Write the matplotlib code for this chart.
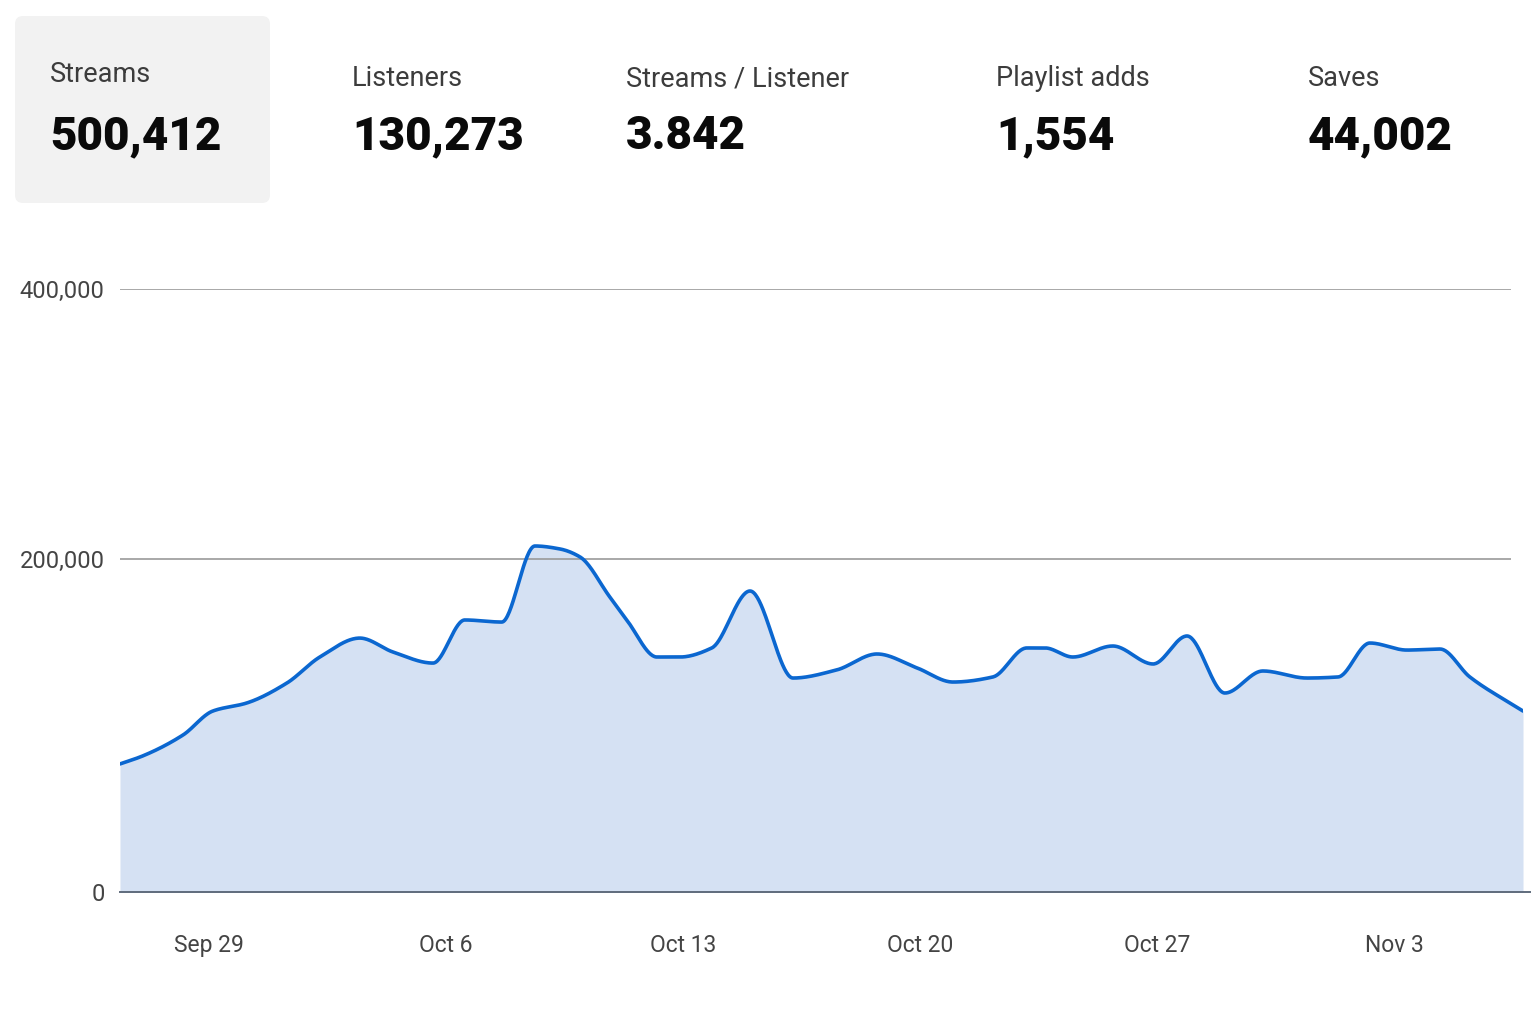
import numpy as np
import matplotlib
matplotlib.use("Agg")
import matplotlib.pyplot as plt
from matplotlib.patches import FancyBboxPatch

# KPI header
kpi_labels = ["Streams", "Listeners", "Streams / Listener", "Playlist adds", "Saves"]
kpi_values = ["500,412", "130,273", "3.842", "1,554", "44,002"]
kpi_x = [50, 352, 626, 996, 1308]  # pixel positions of each card

# daily streams, day offset counted from Sep 29
day_offset = [-2.62, -1.95, -0.76, 0.12, 1.12, 2.31, 3.28, 4.46, 5.44,
              6.62, 7.56, 8.65, 9.63, 10.37, 10.96, 11.84, 12.34, 13.23, 13.91,
              14.85, 15.98, 17.25, 18.54, 19.73, 20.91, 21.97, 23.15, 24.15, 24.69,
              25.51, 26.69, 27.88, 28.88, 30.00, 31.12, 32.42, 33.34, 34.28, 35.37,
              36.35, 37.23, 38.80]
streams = [65600, 70400, 83200, 98200, 103300, 116200, 133200, 145800, 136500,
           129200, 158000, 156600, 209200, 207100, 201500, 173700, 158000, 133200, 133200,
           139200, 177800, 119400, 124700, 135200, 126000, 116800, 120100, 139200, 139200,
           133200, 140500, 128600, 147200, 109700, 124000, 119400, 120100, 142500, 137800,
           138500, 120100, 98200]

tick_days = [0, 7, 14, 21, 28, 35]
tick_labels = ["Sep 29", "Oct 6", "Oct 13", "Oct 20", "Oct 27", "Nov 3"]
y_ticks = [0, 200000, 400000]

LINE = "#0b67d0"
FILL = "#d5e1f3"
W, H = 1536, 1024


def smooth(x, y, n=1500):
    # monotone cubic (Fritsch-Carlson) so the curve does not overshoot
    x = np.asarray(x, float)
    y = np.asarray(y, float)
    h = np.diff(x)
    d = np.diff(y) / h
    m = np.zeros_like(y)
    m[0], m[-1] = d[0], d[-1]
    for k in range(1, len(x) - 1):
        if d[k - 1] * d[k] > 0:
            w1 = 2 * h[k] + h[k - 1]
            w2 = h[k] + 2 * h[k - 1]
            m[k] = (w1 + w2) / (w1 / d[k - 1] + w2 / d[k])
    xs = np.linspace(x[0], x[-1], n)
    i = np.clip(np.searchsorted(x, xs) - 1, 0, len(x) - 2)
    t = (xs - x[i]) / h[i]
    h00 = 2 * t**3 - 3 * t**2 + 1
    h10 = t**3 - 2 * t**2 + t
    h01 = -2 * t**3 + 3 * t**2
    h11 = t**3 - t**2
    ys = h00 * y[i] + h10 * h[i] * m[i] + h01 * y[i + 1] + h11 * h[i] * m[i + 1]
    return xs, ys


plt.rcParams['font.family'] = ['Roboto', 'DejaVu Sans']

fig = plt.figure(figsize=(W / 100, H / 100), dpi=100, facecolor="white")

# highlighted card behind "Streams"
card = FancyBboxPatch((15 / 100, (H - 203) / 100), 255 / 100, 187 / 100,
                      boxstyle="round,pad=0,rounding_size=0.08",
                      transform=fig.dpi_scale_trans, facecolor="#f2f2f2",
                      edgecolor="none", zorder=0)
fig.patches.append(card)

for i, (lab, val) in enumerate(zip(kpi_labels, kpi_values)):
    x = kpi_x[i] / W
    ly = 75 if i == 0 else 79
    fig.text(x, 1 - ly / H, lab, fontsize=19.5, color="#3c3c3c", va="center", ha="left")
    fig.text(x, 1 - 136 / H, val, fontsize=33, fontweight="heavy", color="#0a0a0a",
             va="center", ha="left")

ax = fig.add_axes([120 / W, 1 - 892 / H, (1523 - 120) / W, (892 - 289) / H])
ax.set_facecolor("none")

# the reference axis is not linear: 200k sits well above the midpoint
p = 0.857
ax.set_yscale("function", functions=(lambda v: np.sign(v) * np.abs(v) ** p,
                                     lambda u: np.sign(u) * np.abs(u) ** (1 / p)))

xs, ys = smooth(day_offset, streams)
ax.fill_between(xs, 0, ys, color=FILL, lw=0, zorder=1)
ax.plot(xs, ys, color=LINE, lw=2.6, zorder=3, solid_capstyle="round")

ax.set_xlim(day_offset[0], day_offset[-1])
ax.set_ylim(0, 400000)

ax.hlines(y_ticks[1:], day_offset[0], 38.45, color="#9a9a9a", lw=1.2, zorder=2)
ax.axhline(0, color="#5f6b7c", lw=1.4, zorder=4, xmax=1.005, clip_on=False)

for s in ax.spines.values():
    s.set_visible(False)

ax.set_yticks(y_ticks)
ax.set_yticklabels([f"{v:,}" for v in y_ticks])
ax.set_xticks(tick_days)
ax.set_xticklabels(tick_labels)
ax.tick_params(axis="y", length=0, pad=11, labelsize=17, labelcolor="#444444")
ax.tick_params(axis="x", length=0, pad=30, labelsize=16.5, labelcolor="#444444")
ax.yaxis.set_minor_locator(plt.NullLocator())

fig.savefig("out.png", dpi=100, facecolor="white")
